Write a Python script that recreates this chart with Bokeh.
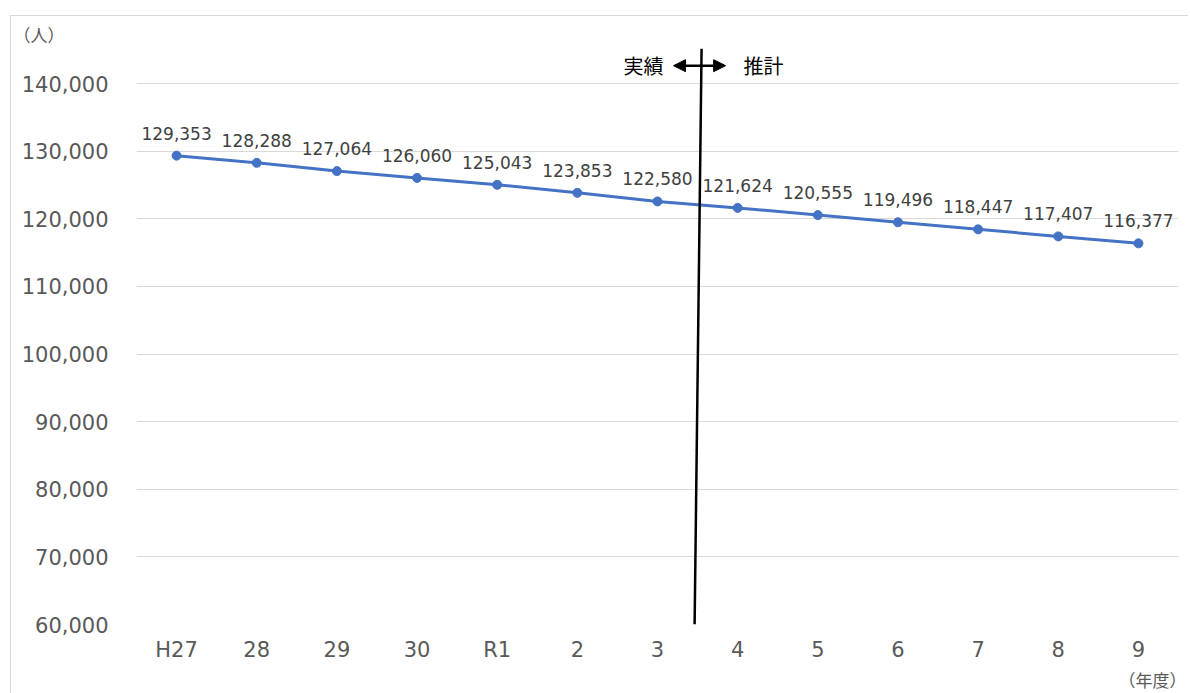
from bokeh.plotting import figure
from bokeh.models import ColumnDataSource, Range1d, FixedTicker, Label, Arrow, NormalHead, NumeralTickFormatter, Title
from bokeh.embed import file_html
from bokeh.resources import INLINE
from bokeh.core.properties import value

# ---- data ----
categories = ["H27", "28", "29", "30", "R1", "2", "3", "4", "5", "6", "7", "8", "9"]
population = [129353, 128288, 127064, 126060, 125043, 123853, 122580,
              121624, 120555, 119496, 118447, 117407, 116377]
y_ticks = [60000, 70000, 80000, 90000, 100000, 110000, 120000, 130000, 140000]

idx = list(range(len(categories)))
labels = [f"{v:,}" for v in population]
src = ColumnDataSource(dict(x=idx, y=population, label=labels))

# annotation positions (between "3" and "4")
divider_x_bottom, divider_x_top = 6.463, 6.55
arrow_y = 142660
arrow_left, arrow_right = 6.20, 6.85

Y_MIN, Y_MAX = 60000, 145200

p = figure(width=1178, height=678, output_backend="svg", toolbar_location=None,
           x_range=Range1d(-0.5, len(categories) - 0.5),
           y_range=Range1d(Y_MIN, Y_MAX),
           min_border_left=125, min_border_right=11, min_border_top=32, min_border_bottom=70)
p.margin = (15, 0, 0, 10)
p.styles = {"border-top": "1px solid #d9d9d9", "border-left": "1px solid #d9d9d9"}

p.outline_line_color = None
p.background_fill_color = "white"
p.border_fill_color = "white"

# unit titles
p.add_layout(Title(text="（人）", align="left", offset=-123, standoff=3,
                   text_font="Noto Sans CJK JP", text_font_size="17px",
                   text_font_style="normal", text_color="#595959"), "above")
p.add_layout(Title(text="（年度）", align="right", offset=-8, standoff=0,
                   text_font="Noto Sans CJK JP", text_font_size="17px",
                   text_font_style="normal", text_color="#595959"), "below")

# axes
p.xaxis.ticker = FixedTicker(ticks=idx)
p.xaxis.major_label_overrides = {i: c for i, c in enumerate(categories)}
p.yaxis.ticker = FixedTicker(ticks=y_ticks)
p.yaxis.formatter = NumeralTickFormatter(format="0,0")
for ax in (p.xaxis[0], p.yaxis[0]):
    ax.axis_line_color = None
    ax.major_tick_line_color = None
    ax.minor_tick_line_color = None
    ax.major_label_text_font = "DejaVu Sans"
    ax.major_label_text_font_size = "21px"
    ax.major_label_text_color = "#595959"
p.yaxis.major_label_standoff = 22
p.xaxis.major_label_standoff = 7

p.xgrid.grid_line_color = None
p.ygrid.grid_line_color = "#d9d9d9"
p.ygrid.grid_line_width = 1

# series
p.line("x", "y", source=src, line_color="#4472C4", line_width=3)
p.scatter("x", "y", source=src, size=9, fill_color="#4472C4", line_color="#4472C4")
p.text("x", "y", text="label", source=src, text_align="center", text_baseline="bottom",
       y_offset=-16, text_font=value("DejaVu Sans"), text_font_size="17px", text_color="#404040")

# divider line and arrow
p.segment(x0=[divider_x_bottom], y0=[Y_MIN], x1=[divider_x_top], y1=[Y_MAX],
          line_color="black", line_width=2.5)
p.add_layout(Arrow(x_start=arrow_left, y_start=arrow_y, x_end=arrow_right, y_end=arrow_y,
                   line_color="black", line_width=2.5,
                   start=NormalHead(size=12, fill_color="black", line_color="black"),
                   end=NormalHead(size=12, fill_color="black", line_color="black")))

p.add_layout(Label(x=6.076, y=arrow_y, text="実績", text_align="right", text_baseline="middle",
                   text_font="Noto Sans CJK JP", text_font_size="20px", text_color="black"))
p.add_layout(Label(x=7.074, y=arrow_y, text="推計", text_align="left", text_baseline="middle",
                   text_font="Noto Sans CJK JP", text_font_size="20px", text_color="black"))

open("out.html", "w").write(file_html(p, INLINE))
